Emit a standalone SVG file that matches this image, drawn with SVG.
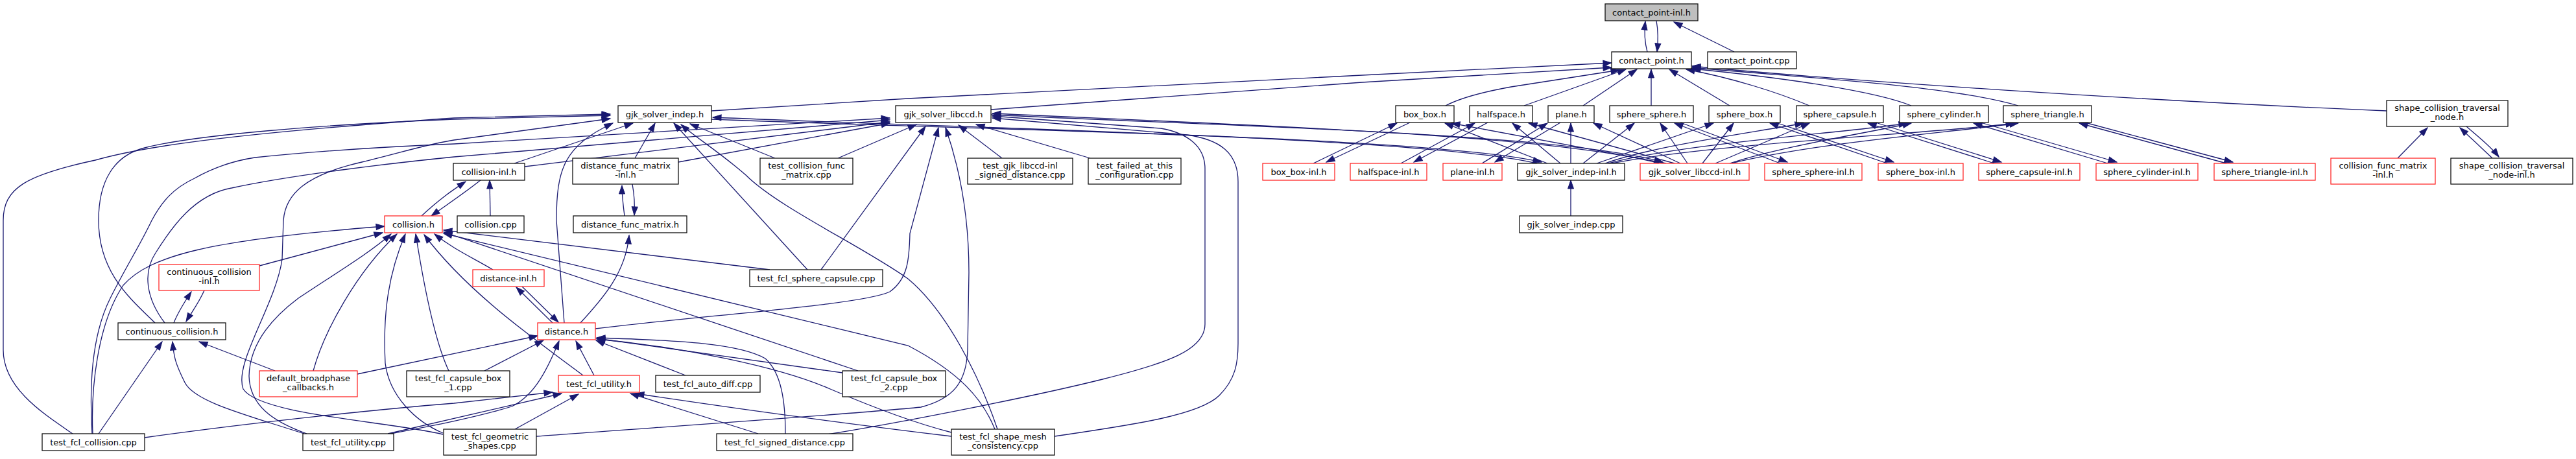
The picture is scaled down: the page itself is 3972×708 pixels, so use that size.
<svg xmlns="http://www.w3.org/2000/svg" width="3972" height="708" viewBox="0 0 3972 708">
<style>
.n rect{fill:#fff;stroke:#111;stroke-width:1.3}
.r rect{stroke:#ff2a2a}
.root rect{fill:#bfbfbf}
text{font-family:"DejaVu Sans",sans-serif;font-size:13px;fill:#000;text-anchor:middle}
#edges path{fill:none;stroke:#191970;stroke-width:1.3;marker-end:url(#a)}
</style>
<defs>
<marker id="a" markerWidth="14" markerHeight="12" refX="13" refY="5" orient="auto" markerUnits="userSpaceOnUse" overflow="visible"><path d="M0,0.5 L13,5 L0,9.5 z" fill="#191970" stroke="#191970" stroke-width="1"/></marker>
</defs>
<rect width="3972" height="708" fill="#fff"/>
<g id="edges">
<path d="M2540,80 C2536,65 2535,50 2537,33"/>
<path d="M2554,32 C2557,48 2557,62 2555,80"/>
<path d="M2674,80 L2581,34"/>
<path d="M1097,171 L1400,152 L2100,116 L2485,97"/>
<path d="M1528,169 L2100,127 L2485,104"/>
<path d="M2229,163 C2250,152 2280,143 2330,134 L2497,108"/>
<path d="M2350,163 L2507,107"/>
<path d="M2441,163 L2524,107"/>
<path d="M2546,163 L2546,107"/>
<path d="M2667,163 L2574,107"/>
<path d="M2790,163 C2740,142 2670,120 2600,107"/>
<path d="M2947,163 C2890,140 2750,120 2609,106"/>
<path d="M3112,163 C3000,130 2750,118 2609,104"/>
<path d="M3680,171 C3300,155 2850,125 2609,102"/>
<path d="M2025,252 L2154,190"/>
<path d="M2174,189 L2045,250"/>
<path d="M2160,252 L2274,190"/>
<path d="M2294,189 L2180,250"/>
<path d="M2285,252 L2386,190"/>
<path d="M2406,189 L2305,250"/>
<path d="M2745,252 L2582,190"/>
<path d="M2591,189 L2756,250"/>
<path d="M2910,252 L2729,190"/>
<path d="M2738,189 L2920,250"/>
<path d="M3075,252 L2880,190"/>
<path d="M2892,189 L3086,250"/>
<path d="M3250,252 L3043,190"/>
<path d="M3054,189 L3264,250"/>
<path d="M3433,252 L3206,190"/>
<path d="M3215,189 L3443,250"/>
<path d="M2386,252 L2228,190"/>
<path d="M2406,252 L2332,190"/>
<path d="M2422,252 L2422,190"/>
<path d="M2441,252 L2520,190"/>
<path d="M2462,252 L2642,190"/>
<path d="M2475,252 C2550,225 2700,205 2781,190"/>
<path d="M2480,252 C2600,220 2850,205 2941,190"/>
<path d="M2485,252 C2650,220 3000,205 3106,190"/>
<path d="M2569,252 L2238,190"/>
<path d="M2582,252 L2357,190"/>
<path d="M2591,252 L2457,190"/>
<path d="M2602,252 L2560,190"/>
<path d="M2625,252 L2673,190"/>
<path d="M2645,252 L2790,190"/>
<path d="M2667,252 C2750,225 2880,205 2947,190"/>
<path d="M2669,252 C2800,220 3000,205 3112,190"/>
<path d="M1097,184 C1500,200 2200,210 2377,250"/>
<path d="M2370,252 C2200,212 1500,198 1099,181"/>
<path d="M1528,177 C1900,195 2400,205 2564,250"/>
<path d="M2558,252 C2400,208 1900,192 1530,175"/>
<path d="M2422,333 L2422,278"/>
<path d="M112,669 C70,640 5,600 5,540 L5,340 C5,290 40,270 147,247 C200,232 300,210 700,182 L941,176"/>
<path d="M239,498 C200,460 152,420 152,340 C152,280 175,240 223,228 C300,208 500,192 700,184 L941,178"/>
<path d="M683,670 C600,650 400,640 375,600 C360,560 425,470 435,400 L437,340 C440,300 470,270 558,250 C620,235 660,222 700,216 L941,183"/>
<path d="M793,252 L976,190"/>
<path d="M870,498 L858,340 C858,260 870,225 945,190"/>
<path d="M979,244 L1010,190"/>
<path d="M1245,416 L1039,190"/>
<path d="M1538,662 C1510,580 1460,480 1400,430 C1330,380 1200,320 1150,270 C1110,235 1070,210 1050,192"/>
<path d="M1195,244 L1064,191"/>
<path d="M142,669 C138,600 140,520 170,460 C195,410 215,380 234,340 C250,310 268,290 300,275 C330,258 360,248 393,243 C500,232 600,226 700,222 L1372,182"/>
<path d="M254,498 C225,460 220,420 240,390 C265,350 300,300 357,290 C450,270 600,252 700,242 L1372,185"/>
<path d="M809,257 L1372,188"/>
<path d="M1046,250 L1372,190"/>
<path d="M1292,244 L1413,192"/>
<path d="M1266,416 L1427,195"/>
<path d="M918,507 C1100,485 1330,470 1372,450 C1400,430 1402,400 1403,360 L1447,197"/>
<path d="M827,673 C1000,660 1300,640 1420,628 C1470,615 1490,590 1492,540 L1494,420 C1494,330 1480,260 1458,197"/>
<path d="M1545,244 L1478,193"/>
<path d="M1681,244 L1505,192"/>
<path d="M1276,670 C1400,650 1600,610 1700,585 C1800,560 1858,540 1858,500 L1858,260 C1858,225 1830,205 1790,198 L1530,179"/>
<path d="M1626,673 C1750,655 1850,640 1880,610 C1905,585 1909,560 1909,530 L1909,280 C1909,235 1880,215 1830,208 L1530,182"/>
<path d="M143,669 C140,600 150,500 190,440 C230,395 320,370 593,349"/>
<path d="M400,410 L590,359"/>
<path d="M483,572 C500,510 550,420 612,361"/>
<path d="M473,669 C420,650 385,625 384,580 C385,530 420,490 460,460 C520,420 570,390 603,361"/>
<path d="M683,668 C640,650 600,610 594,560 C590,480 600,420 625,361"/>
<path d="M692,572 C672,530 655,450 641,361"/>
<path d="M899,579 C820,520 720,450 654,362"/>
<path d="M760,416 C730,398 700,385 670,361"/>
<path d="M1187,416 L684,355"/>
<path d="M1323,572 L684,358"/>
<path d="M1534,662 C1515,615 1480,575 1400,533 L684,360"/>
<path d="M742,277 C720,295 690,315 665,333"/>
<path d="M650,333 C680,305 700,292 718,280"/>
<path d="M756,333 L755,278"/>
<path d="M152,669 L250,527"/>
<path d="M469,669 C380,640 300,620 285,590 C270,560 268,550 266,527"/>
<path d="M424,572 L307,527"/>
<path d="M315,448 C305,470 295,482 287,496"/>
<path d="M268,498 C275,480 285,465 295,450"/>
<path d="M805,442 L861,497"/>
<path d="M852,498 L796,443"/>
<path d="M551,577 L829,518"/>
<path d="M747,572 L838,525"/>
<path d="M602,669 C660,658 730,645 789,627 C820,612 840,580 862,526"/>
<path d="M916,579 L888,526"/>
<path d="M1057,579 L919,525"/>
<path d="M1299,575 L920,522"/>
<path d="M1211,669 C1211,620 1205,575 1180,553 C1140,530 1050,525 920,521"/>
<path d="M1467,667 C1420,655 1350,630 1280,600 C1200,565 1050,535 920,523"/>
<path d="M895,498 C930,460 965,420 970,363"/>
<path d="M223,675 C400,650 600,630 700,622 L852,605"/>
<path d="M598,669 L866,607"/>
<path d="M794,662 L892,608"/>
<path d="M1169,669 L972,607"/>
<path d="M1467,673 C1400,665 1200,640 980,607"/>
<path d="M963,333 C960,310 959,300 959,286"/>
<path d="M975,284 C978,300 979,315 978,332"/>
<path d="M3697,244 L3743,197"/>
<path d="M3843,244 L3793,197"/>
<path d="M3803,195 C3820,210 3840,225 3853,242"/>
</g>
<g id="n0" class="n root"><rect x="2475" y="6" width="143" height="26"/><text x="2546.5" y="23.5">contact_point-inl.h</text></g>
<g id="n1" class="n"><rect x="2485" y="80" width="123" height="26"/><text x="2546.5" y="97.5">contact_point.h</text></g>
<g id="n2" class="n"><rect x="2633" y="80" width="137" height="26"/><text x="2701.5" y="97.5">contact_point.cpp</text></g>
<g id="n3" class="n"><rect x="953" y="163" width="144" height="26"/><text x="1025" y="180.5">gjk_solver_indep.h</text></g>
<g id="n4" class="n"><rect x="1381" y="163" width="147" height="26"/><text x="1454.5" y="180.5">gjk_solver_libccd.h</text></g>
<g id="n5" class="n"><rect x="2152" y="163" width="90" height="26"/><text x="2197" y="180.5">box_box.h</text></g>
<g id="n6" class="n"><rect x="2266" y="163" width="97" height="26"/><text x="2314.5" y="180.5">halfspace.h</text></g>
<g id="n7" class="n"><rect x="2387" y="163" width="71" height="26"/><text x="2422.5" y="180.5">plane.h</text></g>
<g id="n8" class="n"><rect x="2482" y="163" width="129" height="26"/><text x="2546.5" y="180.5">sphere_sphere.h</text></g>
<g id="n9" class="n"><rect x="2635" y="163" width="110" height="26"/><text x="2690" y="180.5">sphere_box.h</text></g>
<g id="n10" class="n"><rect x="2770" y="163" width="134" height="26"/><text x="2837" y="180.5">sphere_capsule.h</text></g>
<g id="n11" class="n"><rect x="2929" y="163" width="137" height="26"/><text x="2997.5" y="180.5">sphere_cylinder.h</text></g>
<g id="n12" class="n"><rect x="3089" y="163" width="136" height="26"/><text x="3157" y="180.5">sphere_triangle.h</text></g>
<g id="n13" class="n"><rect x="3680" y="155" width="187" height="40"/><text x="3773.5" y="171">shape_collision_traversal</text><text x="3773.5" y="185">_node.h</text></g>
<g id="n14" class="n"><rect x="699" y="252" width="110" height="26"/><text x="754" y="269.5">collision-inl.h</text></g>
<g id="n15" class="n"><rect x="883" y="244" width="163" height="40"/><text x="964.5" y="260">distance_func_matrix</text><text x="964.5" y="274">-inl.h</text></g>
<g id="n16" class="n"><rect x="1172" y="244" width="143" height="40"/><text x="1243.5" y="260">test_collision_func</text><text x="1243.5" y="274">_matrix.cpp</text></g>
<g id="n17" class="n"><rect x="1492" y="244" width="162" height="40"/><text x="1573" y="260">test_gjk_libccd-inl</text><text x="1573" y="274">_signed_distance.cpp</text></g>
<g id="n18" class="n"><rect x="1678" y="244" width="143" height="40"/><text x="1749.5" y="260">test_failed_at_this</text><text x="1749.5" y="274">_configuration.cpp</text></g>
<g id="n19" class="n r"><rect x="1947" y="252" width="111" height="26"/><text x="2002.5" y="269.5">box_box-inl.h</text></g>
<g id="n20" class="n r"><rect x="2082" y="252" width="118" height="26"/><text x="2141" y="269.5">halfspace-inl.h</text></g>
<g id="n21" class="n r"><rect x="2225" y="252" width="91" height="26"/><text x="2270.5" y="269.5">plane-inl.h</text></g>
<g id="n22" class="n"><rect x="2340" y="252" width="165" height="26"/><text x="2422.5" y="269.5">gjk_solver_indep-inl.h</text></g>
<g id="n23" class="n r"><rect x="2529" y="252" width="168" height="26"/><text x="2613" y="269.5">gjk_solver_libccd-inl.h</text></g>
<g id="n24" class="n r"><rect x="2721" y="252" width="150" height="26"/><text x="2796" y="269.5">sphere_sphere-inl.h</text></g>
<g id="n25" class="n r"><rect x="2896" y="252" width="131" height="26"/><text x="2961.5" y="269.5">sphere_box-inl.h</text></g>
<g id="n26" class="n r"><rect x="3051" y="252" width="156" height="26"/><text x="3129" y="269.5">sphere_capsule-inl.h</text></g>
<g id="n27" class="n r"><rect x="3232" y="252" width="157" height="26"/><text x="3310.5" y="269.5">sphere_cylinder-inl.h</text></g>
<g id="n28" class="n r"><rect x="3414" y="252" width="156" height="26"/><text x="3492" y="269.5">sphere_triangle-inl.h</text></g>
<g id="n29" class="n r"><rect x="3594" y="244" width="161" height="40"/><text x="3674.5" y="260">collision_func_matrix</text><text x="3674.5" y="274">-inl.h</text></g>
<g id="n30" class="n"><rect x="3779" y="244" width="188" height="40"/><text x="3873" y="260">shape_collision_traversal</text><text x="3873" y="274">_node-inl.h</text></g>
<g id="n31" class="n r"><rect x="593" y="333" width="89" height="26"/><text x="637.5" y="350.5">collision.h</text></g>
<g id="n32" class="n"><rect x="705" y="333" width="103" height="26"/><text x="756.5" y="350.5">collision.cpp</text></g>
<g id="n33" class="n"><rect x="884" y="333" width="175" height="26"/><text x="971.5" y="350.5">distance_func_matrix.h</text></g>
<g id="n34" class="n"><rect x="2343" y="333" width="159" height="26"/><text x="2422.5" y="350.5">gjk_solver_indep.cpp</text></g>
<g id="n35" class="n r"><rect x="245" y="408" width="155" height="40"/><text x="322.5" y="424">continuous_collision</text><text x="322.5" y="438">-inl.h</text></g>
<g id="n36" class="n r"><rect x="729" y="416" width="110" height="26"/><text x="784" y="433.5">distance-inl.h</text></g>
<g id="n37" class="n"><rect x="1156" y="416" width="205" height="26"/><text x="1258.5" y="433.5">test_fcl_sphere_capsule.cpp</text></g>
<g id="n38" class="n"><rect x="182" y="498" width="166" height="26"/><text x="265" y="515.5">continuous_collision.h</text></g>
<g id="n39" class="n r"><rect x="829" y="498" width="89" height="26"/><text x="873.5" y="515.5">distance.h</text></g>
<g id="n40" class="n r"><rect x="400" y="572" width="151" height="40"/><text x="475.5" y="588">default_broadphase</text><text x="475.5" y="602">_callbacks.h</text></g>
<g id="n41" class="n"><rect x="627" y="572" width="159" height="40"/><text x="706.5" y="588">test_fcl_capsule_box</text><text x="706.5" y="602">_1.cpp</text></g>
<g id="n42" class="n r"><rect x="861" y="579" width="125" height="26"/><text x="923.5" y="596.5">test_fcl_utility.h</text></g>
<g id="n43" class="n"><rect x="1011" y="579" width="161" height="26"/><text x="1091.5" y="596.5">test_fcl_auto_diff.cpp</text></g>
<g id="n44" class="n"><rect x="1299" y="572" width="159" height="40"/><text x="1378.5" y="588">test_fcl_capsule_box</text><text x="1378.5" y="602">_2.cpp</text></g>
<g id="n45" class="n"><rect x="65" y="669" width="158" height="26"/><text x="144" y="686.5">test_fcl_collision.cpp</text></g>
<g id="n46" class="n"><rect x="467" y="669" width="140" height="26"/><text x="537" y="686.5">test_fcl_utility.cpp</text></g>
<g id="n47" class="n"><rect x="684" y="662" width="143" height="40"/><text x="755.5" y="678">test_fcl_geometric</text><text x="755.5" y="692">_shapes.cpp</text></g>
<g id="n48" class="n"><rect x="1105" y="669" width="210" height="26"/><text x="1210" y="686.5">test_fcl_signed_distance.cpp</text></g>
<g id="n49" class="n"><rect x="1467" y="662" width="159" height="40"/><text x="1546.5" y="678">test_fcl_shape_mesh</text><text x="1546.5" y="692">_consistency.cpp</text></g>
</svg>
